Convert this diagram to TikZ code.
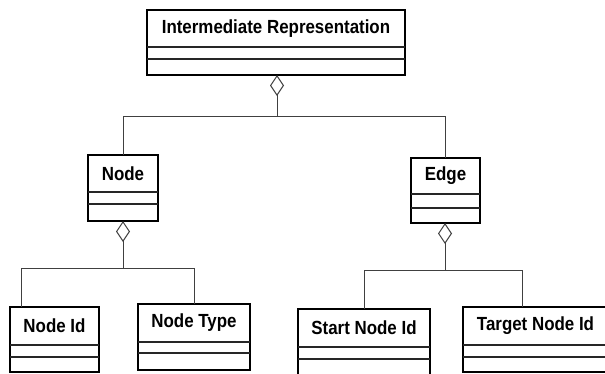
\documentclass[tikz,border=0pt]{standalone}
\usepackage{fontspec}
\setmainfont{Liberation Sans}[FakeStretch=0.89]
\usetikzlibrary{arrows.meta}

% class box: name, left, top, right, bottom, divider 1, divider 2, title
\newcommand{\classbox}[8]{%
  \node[boxframe, minimum width={(#4-#2)*1pt}, minimum height={(#5-#3)*1pt},
        anchor=north west] (#1) at (#2,#3) {};
  \node[boxtitle] (#1-title) at ({(#2+#4)/2},{(#3+#6)/2}) {#8};
  \draw[divider] (#2,#6) -- (#4,#6);
  \draw[divider] (#2,#7) -- (#4,#7);
}

\tikzset{
  boxframe/.style={draw=black, line width=2.4pt, inner sep=0pt, outer sep=0pt, rectangle},
  boxtitle/.style={font=\fontsize{19}{21}\selectfont\bfseries, inner sep=0pt, text=black},
  divider/.style={draw=black!85, line width=1.1pt},
  conn/.style={draw=black!75, line width=1pt},
  agg/.style={conn, {Diamond[open, length=21pt, width=14pt, line width=1pt]}-},
}

\begin{document}
\begin{tikzpicture}[x=1pt, y=-1pt]
\useasboundingbox[fill=white] (0,0) rectangle (605,373);

\classbox{ir}{147}{10}{405}{75}{47}{59}{Intermediate Representation}
\classbox{node}{88}{155}{158}{221}{192}{204}{Node}
\classbox{edge}{411}{158}{480}{223}{194}{208}{Edge}
\classbox{nodeid}{10}{307}{99}{372}{345}{357}{Node Id}
\classbox{nodetype}{138}{304}{250}{370}{342}{353}{Node Type}
\classbox{startid}{298}{309}{430}{376}{347}{359}{Start Node Id}
\classbox{targetid}{463}{307}{608}{372}{345}{357}{Target Node Id}

% aggregation junctions
\coordinate (j0) at (277,116);
\coordinate (j1) at (123,268);
\coordinate (j2) at (445,270);

\draw[agg] (ir.south -| j0) -- (j0);
\draw[conn] (j0) -| (node.north);
\draw[conn] (j0) -| (edge.north);

\draw[agg] (node.south) -- (j1);
\draw[conn] (j1) -| ([xshift=-33pt]nodeid.north);
\draw[conn] (j1) -| (nodetype.north);

\draw[agg] (edge.south -| j2) -- (j2);
\draw[conn] (j2) -| (startid.north);
\draw[conn] (j2) -| ([xshift=-13.5pt]targetid.north);
\end{tikzpicture}
\end{document}
